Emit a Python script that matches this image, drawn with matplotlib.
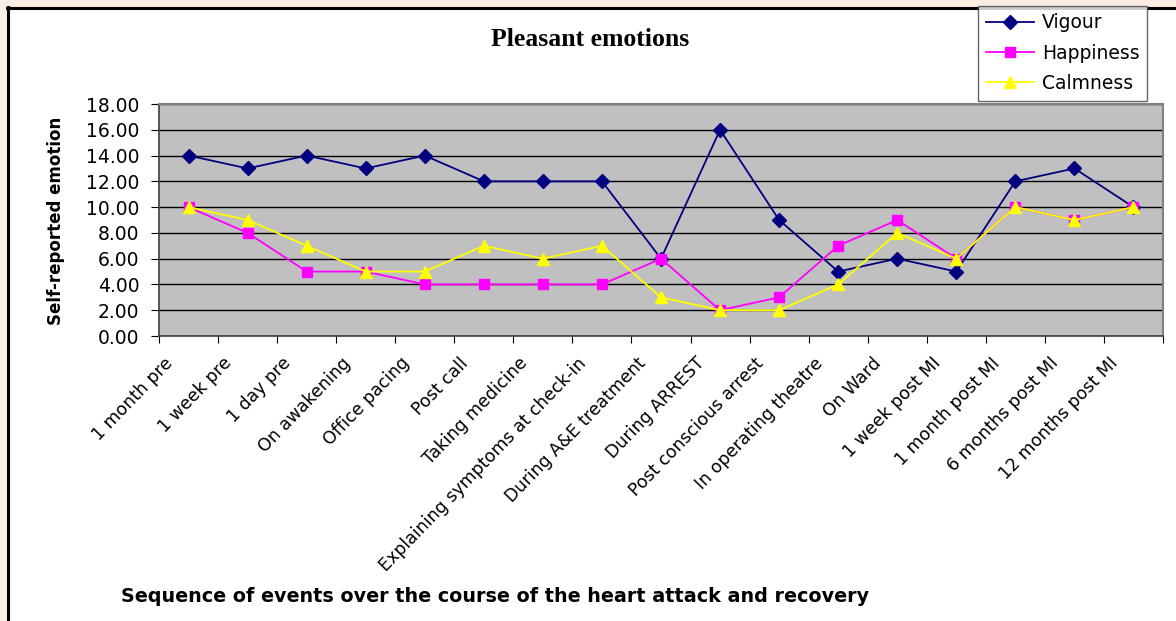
import matplotlib
matplotlib.use("Agg")
import matplotlib.pyplot as plt
from matplotlib.lines import Line2D
from matplotlib.patches import Rectangle

categories = ["1 month pre", "1 week pre", "1 day pre", "On awakening", "Office pacing",
              "Post call", "Taking medicine", "Explaining symptoms at check-in",
              "During A&E treatment", "During ARREST", "Post conscious arrest",
              "In operating theatre", "On Ward", "1 week post MI", "1 month post MI",
              "6 months post MI", "12 months post MI"]
vigour = [14, 13, 14, 13, 14, 12, 12, 12, 6, 16, 9, 5, 6, 5, 12, 13, 10]
happiness = [10, 8, 5, 5, 4, 4, 4, 4, 6, 2, 3, 7, 9, 6, 10, 9, 10]
calmness = [10, 9, 7, 5, 5, 7, 6, 7, 3, 2, 2, 4, 8, 6, 10, 9, 10]
yticks = [0, 2, 4, 6, 8, 10, 12, 14, 16, 18]

W, H = 1176, 621
fig = plt.figure(figsize=(W / 100, H / 100), dpi=100)
fig.patch.set_facecolor("#FDEEE4")
fig.patches.append(Rectangle((7 / W, 0), 1, 1 - 7 / H, transform=fig.transFigure,
                             facecolor="white", edgecolor="none", zorder=-10))
fig.lines.append(Line2D([7.5 / W, 7.5 / W], [0, 1 - 7 / H], transform=fig.transFigure,
                        color="black", lw=2.2, zorder=-5))
fig.lines.append(Line2D([7 / W, 1], [1 - 7.5 / H, 1 - 7.5 / H], transform=fig.transFigure,
                        color="black", lw=2.2, zorder=-5))

ax = fig.add_axes([159 / W, 1 - 336 / H, (1163 - 159) / W, (336 - 104) / H])
ax.set_facecolor("#C0C0C0")
x = list(range(len(categories)))
ax.plot(x, vigour, color="#000080", marker="D", markersize=6.8, lw=1.3, label="Vigour", zorder=3)
ax.plot(x, happiness, color="#FF00FF", marker="s", markersize=7, lw=1.3, label="Happiness", zorder=4)
ax.plot(x, calmness, color="#FFFF00", marker="^", markersize=8.5, lw=1.3, label="Calmness", zorder=5)

ax.set_xlim(-0.5, len(categories) - 0.5)
ax.set_ylim(0, 18)
ax.set_yticks(yticks)
ax.set_yticklabels([f"{v:.2f}" for v in yticks], fontsize=13.5, family="DejaVu Sans")
ax.yaxis.grid(True, color="black", lw=1)
ax.set_axisbelow(True)
ax.set_xticks([i - 0.5 for i in range(len(categories) + 1)], minor=False)
ax.set_xticklabels([])
label_shift = 0.42  # labels sit slightly left of the category centre, as in the reference
ax.set_xticks([i - label_shift for i in x], minor=True)
ax.set_xticklabels(categories, minor=True, rotation=46, ha="right", va="top",
                   rotation_mode="anchor", fontsize=12.5, family="DejaVu Sans")
ax.tick_params(axis="x", which="minor", length=0, pad=13)
ax.tick_params(axis="x", which="major", length=5, direction="out", color="black")
ax.tick_params(axis="y", length=6, direction="out", color="black", pad=8)
for s in ["top", "right"]:
    ax.spines[s].set_color("#808080")
    ax.spines[s].set_linewidth(1.5)
for s in ["left", "bottom"]:
    ax.spines[s].set_color("#404040")
    ax.spines[s].set_linewidth(1.2)

fig.text(590 / W, 1 - 40 / H, "Pleasant emotions", ha="center", va="center",
         fontsize=18.5, fontweight="bold", family="Liberation Serif")
fig.text(56 / W, 1 - 221 / H, "Self-reported emotion", ha="center", va="center",
         rotation=90, fontsize=12, fontweight="bold", family="DejaVu Sans")
fig.text(121 / W, 1 - 596 / H, "Sequence of events over the course of the heart attack and recovery",
         ha="left", va="center", fontsize=13.8, fontweight="bold", family="DejaVu Sans")

leg = fig.legend(loc="upper left", bbox_to_anchor=(978 / W, 1 - 6 / H), borderaxespad=0,
                 prop={"family": "DejaVu Sans", "size": 13.5}, frameon=True, fancybox=False,
                 edgecolor="#404040", handlelength=2.6, handletextpad=0.4,
                 labelspacing=0.6, borderpad=0.4)
leg.get_frame().set_linewidth(1)

fig.savefig("out.png", dpi=100, facecolor=fig.get_facecolor())
